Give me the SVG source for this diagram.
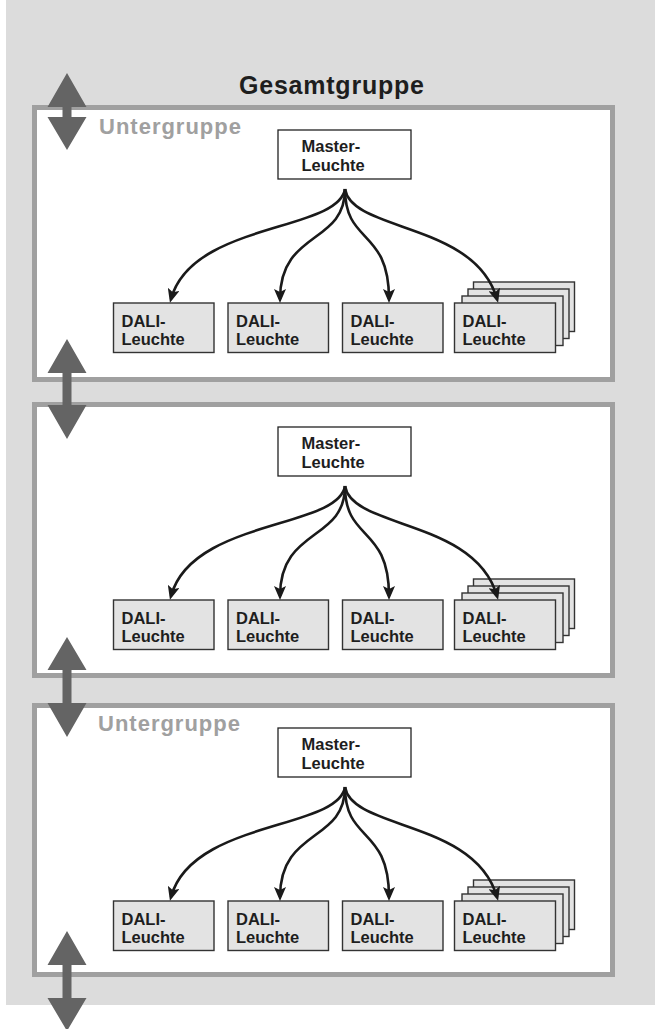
<svg xmlns="http://www.w3.org/2000/svg" width="655" height="1029" viewBox="0 0 655 1029">
<style>
.grp{fill:#fff;stroke:#a0a0a0;stroke-width:5}
.master{fill:#fff;stroke:#222;stroke-width:1.3}
.dali{fill:#e3e3e3;stroke:#333;stroke-width:1.4}
.txt{font-family:"Liberation Sans",Arial,sans-serif;font-weight:bold;font-size:16.5px;fill:#1e1e1e}
.title{font-family:"Liberation Sans",Arial,sans-serif;font-weight:bold;font-size:25px;fill:#1e1e1e}
.sub{font-family:"Liberation Sans",Arial,sans-serif;font-weight:bold;font-size:22px;fill:#a0a0a0}
.conn{fill:none;stroke:#1a1a1a;stroke-width:2.6}
.dbl{fill:#646464}
</style>
<defs>
<marker id="ah" viewBox="0 0 14 12" markerWidth="14" markerHeight="12" refX="10" refY="6" orient="auto" markerUnits="userSpaceOnUse">
<path d="M0,0 L14,6 L0,12 L3,6 z" fill="#1a1a1a"/>
</marker>
<g id="stack">
<rect class="dali" x="19" y="-21" width="101" height="49.5"/>
<rect class="dali" x="13.5" y="-14" width="101" height="49.5"/>
<rect class="dali" x="7.5" y="-7" width="101" height="49.5"/>
</g>
</defs>
<rect x="6" y="0" width="649" height="1005" fill="#dcdcdc"/>
<text class="title" x="331.5" y="94" text-anchor="middle" textLength="185" lengthAdjust="spacing">Gesamtgruppe</text>

<g id="gruppe1"><rect class="grp" x="34.5" y="107.5" width="578" height="272"/><text class="sub" x="99" y="134" textLength="142" lengthAdjust="spacing">Untergruppe</text></g>
<g id="gruppe2"><rect class="grp" x="34.5" y="404.5" width="578" height="271"/></g>
<g id="gruppe3"><rect class="grp" x="34.5" y="705.5" width="578" height="269"/><text class="sub" x="98" y="731" textLength="142" lengthAdjust="spacing">Untergruppe</text></g>

<g id="s1">
<g id="master1"><rect class="master" x="278" y="130" width="133" height="49"/><text class="txt" x="301.5" y="152">Master-</text><text class="txt" x="301.5" y="170.5">Leuchte</text></g>
<g id="dali1a"><rect class="dali" x="113.5" y="303" width="100.5" height="49.5"/><text class="txt" x="121.5" y="326.5">DALI-</text><text class="txt" x="121.5" y="345">Leuchte</text></g>
<g id="dali1b"><rect class="dali" x="228" y="303" width="100.5" height="49.5"/><text class="txt" x="236" y="326.5">DALI-</text><text class="txt" x="236" y="345">Leuchte</text></g>
<g id="dali1c"><rect class="dali" x="342.5" y="303" width="100.5" height="49.5"/><text class="txt" x="350.5" y="326.5">DALI-</text><text class="txt" x="350.5" y="345">Leuchte</text></g>
<g id="dali1d"><use href="#stack" x="454.5" y="303"/><rect class="dali" x="454.5" y="303" width="101" height="49.5"/><text class="txt" x="462.5" y="326.5">DALI-</text><text class="txt" x="462.5" y="345">Leuchte</text></g>
</g>

<g id="s2" transform="translate(0,297)">
<g id="master2"><rect class="master" x="278" y="130" width="133" height="49"/><text class="txt" x="301.5" y="152">Master-</text><text class="txt" x="301.5" y="170.5">Leuchte</text></g>
<g id="dali2a"><rect class="dali" x="113.5" y="303" width="100.5" height="49.5"/><text class="txt" x="121.5" y="326.5">DALI-</text><text class="txt" x="121.5" y="345">Leuchte</text></g>
<g id="dali2b"><rect class="dali" x="228" y="303" width="100.5" height="49.5"/><text class="txt" x="236" y="326.5">DALI-</text><text class="txt" x="236" y="345">Leuchte</text></g>
<g id="dali2c"><rect class="dali" x="342.5" y="303" width="100.5" height="49.5"/><text class="txt" x="350.5" y="326.5">DALI-</text><text class="txt" x="350.5" y="345">Leuchte</text></g>
<g id="dali2d"><use href="#stack" x="454.5" y="303"/><rect class="dali" x="454.5" y="303" width="101" height="49.5"/><text class="txt" x="462.5" y="326.5">DALI-</text><text class="txt" x="462.5" y="345">Leuchte</text></g>
</g>

<g id="s3" transform="translate(0,598)">
<g id="master3"><rect class="master" x="278" y="130" width="133" height="49"/><text class="txt" x="301.5" y="152">Master-</text><text class="txt" x="301.5" y="170.5">Leuchte</text></g>
<g id="dali3a"><rect class="dali" x="113.5" y="303" width="100.5" height="49.5"/><text class="txt" x="121.5" y="326.5">DALI-</text><text class="txt" x="121.5" y="345">Leuchte</text></g>
<g id="dali3b"><rect class="dali" x="228" y="303" width="100.5" height="49.5"/><text class="txt" x="236" y="326.5">DALI-</text><text class="txt" x="236" y="345">Leuchte</text></g>
<g id="dali3c"><rect class="dali" x="342.5" y="303" width="100.5" height="49.5"/><text class="txt" x="350.5" y="326.5">DALI-</text><text class="txt" x="350.5" y="345">Leuchte</text></g>
<g id="dali3d"><use href="#stack" x="454.5" y="303"/><rect class="dali" x="454.5" y="303" width="101" height="49.5"/><text class="txt" x="462.5" y="326.5">DALI-</text><text class="txt" x="462.5" y="345">Leuchte</text></g>
</g>

<g id="connectors">
<g id="conn1">
<path class="conn" marker-end="url(#ah)" d="M345,189 C338,232 192,222 171,299"/>
<path class="conn" marker-end="url(#ah)" d="M345,189 C345,245 280,230 280,299"/>
<path class="conn" marker-end="url(#ah)" d="M345,189 C345,245 389,228 389,299"/>
<path class="conn" marker-end="url(#ah)" d="M345,189 C352,232 475,222 497,299"/>
</g>
<g id="conn2" transform="translate(0,297)">
<path class="conn" marker-end="url(#ah)" d="M345,189 C338,232 192,222 171,299"/>
<path class="conn" marker-end="url(#ah)" d="M345,189 C345,245 280,230 280,299"/>
<path class="conn" marker-end="url(#ah)" d="M345,189 C345,245 389,228 389,299"/>
<path class="conn" marker-end="url(#ah)" d="M345,189 C352,232 475,222 497,299"/>
</g>
<g id="conn3" transform="translate(0,598)">
<path class="conn" marker-end="url(#ah)" d="M345,189 C338,232 192,222 171,299"/>
<path class="conn" marker-end="url(#ah)" d="M345,189 C345,245 280,230 280,299"/>
<path class="conn" marker-end="url(#ah)" d="M345,189 C345,245 389,228 389,299"/>
<path class="conn" marker-end="url(#ah)" d="M345,189 C352,232 475,222 497,299"/>
</g>
</g>

<g id="arrows">
<polygon class="dbl" points="67,73 86.5,107 71.5,107 71.5,117 86.5,117 67,150 47.5,117 62.5,117 62.5,107 47.5,107"/>
<polygon class="dbl" points="67,339 86.5,373 71.5,373 71.5,405 86.5,405 67,439 47.5,405 62.5,405 62.5,373 47.5,373"/>
<polygon class="dbl" points="67,637 86.5,670 71.5,670 71.5,703 86.5,703 67,737 47.5,703 62.5,703 62.5,670 47.5,670"/>
<polygon class="dbl" points="67,931 86.5,965 71.5,965 71.5,998 86.5,998 67,1031 47.5,998 62.5,998 62.5,965 47.5,965"/>
</g>
</svg>
